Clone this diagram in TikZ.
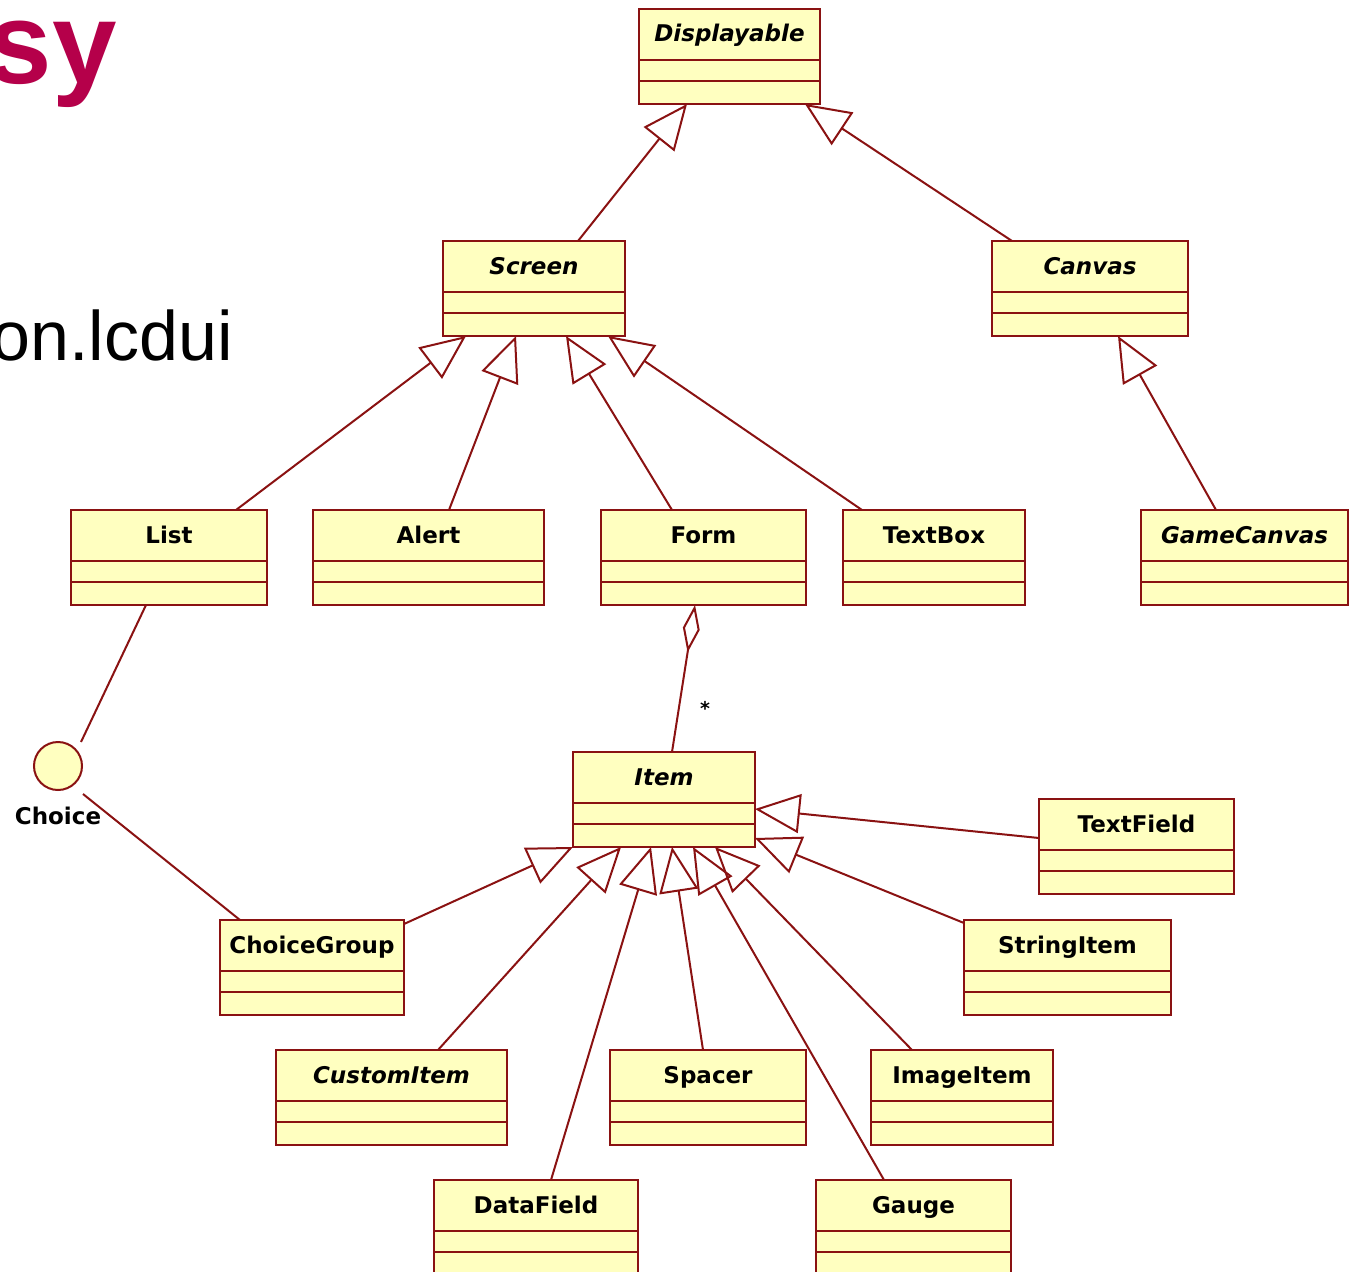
\documentclass[tikz,border=0pt]{standalone}
\usepackage{fontspec}
\usetikzlibrary{arrows.meta}
\newfontfamily\umlfont{DejaVu Sans}
\newfontfamily\arialfont{Liberation Sans}
\definecolor{umlline}{HTML}{8A1212}
\definecolor{umlfill}{HTML}{FFFFC0}
\definecolor{titlered}{HTML}{B5004A}
\tikzset{
  classbox/.style={draw=umlline, fill=umlfill, line width=2.2pt, minimum height=95pt, anchor=north west, inner sep=0pt, outer sep=0pt},
  divider/.style={draw=umlline, line width=2.2pt},
  classlabel/.style={anchor=base, font=\umlfont\bfseries\fontsize{23}{27}\selectfont, text=black, inner sep=0pt},
  abstractlabel/.style={classlabel, font=\umlfont\bfseries\itshape\fontsize{23}{27}\selectfont},
  gen/.style={draw=umlline, line width=2pt, -{Triangle[open, length=45pt, width=39pt]}},
  agg/.style={draw=umlline, line width=2pt, -{Diamond[open, length=48pt, width=17pt]}},
  assoc/.style={draw=umlline, line width=2pt},
}
\newcommand\umlclass[6]{%
  \node[classbox, minimum width=#4pt] (#1) at (#2,#3) {};
  \draw[divider] ([yshift=-51pt]#1.north west) -- ([yshift=-51pt]#1.north east);
  \draw[divider] ([yshift=-72pt]#1.north west) -- ([yshift=-72pt]#1.north east);
  \node[#5] (#1-text) at ([yshift=-33pt]#1.north) {#6};
}
\begin{document}
\begin{tikzpicture}[x=1pt, y=-1pt]
\useasboundingbox (0,0) rectangle (1351,1271);
\clip (0,0) rectangle (1351,1271);
\fill[white] (0,0) rectangle (1351,1271);

\node[anchor=base east, text=titlered, font=\arialfont\bfseries\fontsize{116}{120}\selectfont, inner sep=0pt] (title) at (117,84) {sy};
\node[anchor=base east, text=black, font=\arialfont\fontsize{70}{80}\selectfont, inner sep=0pt] (pkg) at (233,360) {on.lcdui};

\umlclass{disp}{639}{9}{181}{abstractlabel}{Displayable}
\umlclass{screen}{443}{241}{182}{abstractlabel}{Screen}
\umlclass{canvas}{992}{241}{196}{abstractlabel}{Canvas}
\umlclass{list}{71}{510}{196}{classlabel}{List}
\umlclass{alert}{313}{510}{231}{classlabel}{Alert}
\umlclass{form}{601}{510}{205}{classlabel}{Form}
\umlclass{textbox}{843}{510}{182}{classlabel}{TextBox}
\umlclass{gamecanvas}{1141}{510}{207}{abstractlabel}{GameCanvas}
\umlclass{item}{573}{752}{182}{abstractlabel}{Item}
\umlclass{textfield}{1039}{799}{195}{classlabel}{TextField}
\umlclass{choicegroup}{220}{920}{184}{classlabel}{ChoiceGroup}
\umlclass{stringitem}{964}{920}{207}{classlabel}{StringItem}
\umlclass{customitem}{276}{1050}{231}{abstractlabel}{CustomItem}
\umlclass{spacer}{610}{1050}{196}{classlabel}{Spacer}
\umlclass{imageitem}{871}{1050}{182}{classlabel}{ImageItem}
\umlclass{datafield}{434}{1180}{204}{classlabel}{DataField}
\umlclass{gauge}{816}{1180}{195}{classlabel}{Gauge}

\node[draw=umlline, fill=umlfill, line width=2pt, circle, minimum size=48pt, inner sep=0pt] (choice) at (58,766) {};
\node[classlabel] (choicelabel) at (58,824) {Choice};
\node[anchor=base, font=\umlfont\bfseries\fontsize{19}{19}\selectfont, inner sep=0pt] (mult) at (705,715) {*};

\draw[gen] ([xshift=135pt]screen.north west) -- ([xshift=48pt]disp.south west);
\draw[gen] ([xshift=20pt]canvas.north west) -- ([xshift=166pt]disp.south west);
\draw[gen] ([xshift=165pt]list.north west) -- ([xshift=23pt]screen.south west);
\draw[gen] ([xshift=136pt]alert.north west) -- ([xshift=73pt]screen.south west);
\draw[gen] ([xshift=71pt]form.north west) -- ([xshift=123pt]screen.south west);
\draw[gen] ([xshift=19pt]textbox.north west) -- ([xshift=165pt]screen.south west);
\draw[gen] ([xshift=75pt]gamecanvas.north west) -- ([xshift=126pt]canvas.south west);
\draw[agg] ([xshift=99pt]item.north west) -- ([xshift=94pt]form.south west);
\draw[assoc] ([xshift=75pt]list.south west) -- ([xshift=23pt,yshift=24pt]choice.center);
\draw[assoc] ([xshift=25pt,yshift=-28pt]choice.center) -- ([xshift=20pt]choicegroup.north west);
\draw[gen] ([yshift=-4pt]choicegroup.north east) -- (item.south west);
\draw[gen] ([xshift=162pt]customitem.north west) -- ([xshift=48pt]item.south west);
\draw[gen] ([xshift=117pt]datafield.north west) -- ([xshift=78pt]item.south west);
\draw[gen] ([xshift=93pt]spacer.north west) -- ([xshift=99pt]item.south west);
\draw[gen] ([xshift=68pt]gauge.north west) -- ([xshift=120pt]item.south west);
\draw[gen] ([xshift=41pt]imageitem.north west) -- ([xshift=142pt]item.south west);
\draw[gen] ([yshift=-3pt]stringitem.north west) -- ([yshift=9pt]item.south east);
\draw[gen] ([yshift=-39pt]textfield.north west) -- ([yshift=-57pt]item.north east);
\end{tikzpicture}
\end{document}
